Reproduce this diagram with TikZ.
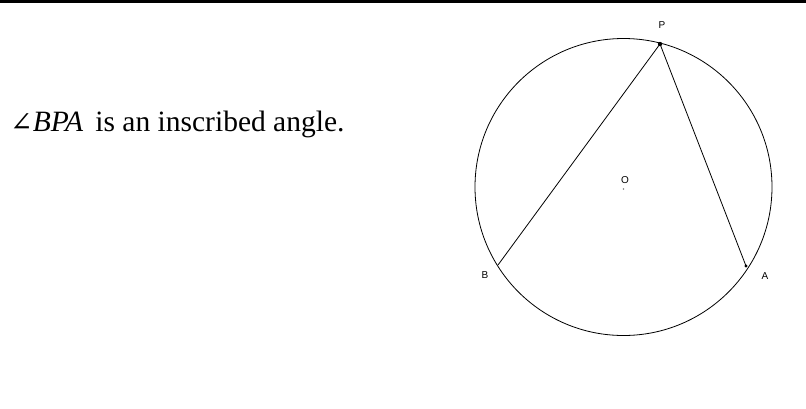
\documentclass[tikz,border=0pt]{standalone}
\usepackage{fontspec}
\setmainfont{Liberation Serif}
\newfontfamily\labelfont{Liberation Sans}
\newfontfamily\anglefont{DejaVu Serif}

\begin{document}
\begin{tikzpicture}[x=1pt,y=-1pt]
\path[use as bounding box] (0,0) rectangle (806.0,408.0);
\draw[line width=3pt] (0,1.5) -- (806,1.5);
\node[anchor=base west,inner sep=0pt,font=\fontsize{29.5}{35.4}\selectfont] (caption) at (10,131) {{\anglefont\fontsize{27}{30}\selectfont ∠}\textit{BPA}\, is an inscribed angle.};
\coordinate (O) at (623.5,187);
\draw[line width=0.8pt] (O) circle (148.5);
\coordinate (P) at (660,44);
\coordinate (B) at (498,265);
\coordinate (A) at (746,266);
\draw[line width=0.8pt] (B) -- (P) -- (A);
\fill (P) circle (2.2);
\fill (A) circle (1.6);
\fill[gray] (O)+(0,2) circle (0.8);
\node[anchor=base,inner sep=0pt,font=\labelfont\fontsize{10}{12}\selectfont] (Plabel) at (662,28) {P};
\node[anchor=base,inner sep=0pt,font=\labelfont\fontsize{10}{12}\selectfont] (Olabel) at (625,183) {O};
\node[anchor=base,inner sep=0pt,font=\labelfont\fontsize{10}{12}\selectfont] (Blabel) at (485,278) {B};
\node[anchor=base,inner sep=0pt,font=\labelfont\fontsize{10}{12}\selectfont] (Alabel) at (765,279) {A};
\end{tikzpicture}
\end{document}
